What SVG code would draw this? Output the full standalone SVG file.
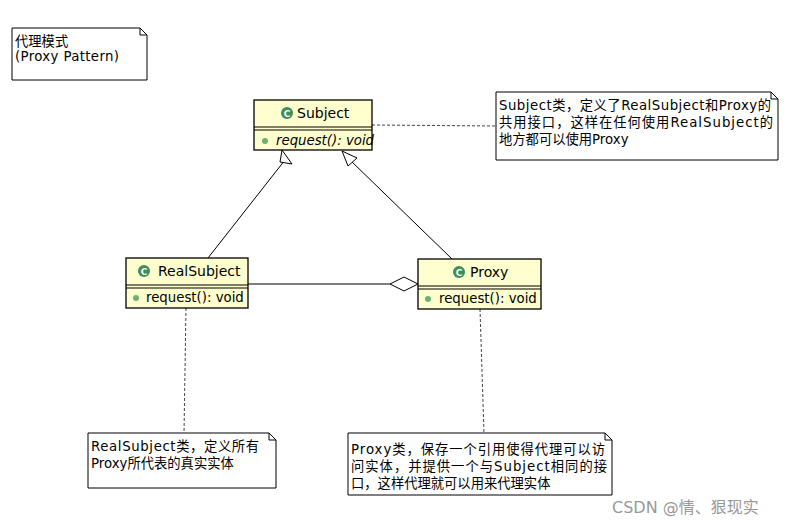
<svg xmlns="http://www.w3.org/2000/svg" width="799" height="525" viewBox="0 0 799 525">
<style>
text{font-family:"DejaVu Sans","Noto Sans CJK SC",sans-serif;font-size:13.3px;fill:#000}
.t{font-size:14px}
.cls{fill:#FEFECE;stroke:#000;stroke-width:1.3}
.note{fill:#fff;stroke:#000;stroke-width:1}
.ln{stroke:#000;stroke-width:1;fill:none}
.dash{stroke:#444;stroke-width:1;stroke-dasharray:3,2;fill:none}
.ic{fill:#3E8E5A}
.dot{fill:#6FAF74}
</style>
<rect width="799" height="525" fill="#fff"/>
<g id="connectors">
<line class="dash" x1="372" y1="125" x2="496" y2="126"/>
<line class="dash" x1="186" y1="308" x2="184" y2="433"/>
<line class="dash" x1="480" y1="309" x2="484" y2="433"/>
<line class="ln" x1="208" y1="258" x2="285" y2="160"/>
<polygon points="282,150 292,164 280,162" fill="#fff" stroke="#000"/>
<line class="ln" x1="452" y1="259" x2="350" y2="160"/>
<polygon points="342,151 357,158 348,166" fill="#fff" stroke="#000"/>
<line class="ln" x1="248" y1="284" x2="390" y2="284"/>
<polygon points="390,284 404,277 418,284 404,291" fill="#fff" stroke="#000"/>
</g>
<g id="title"><path class="note" d="M12,28 H140 L147,35 V80 H12 Z"/><path class="ln" d="M140,28 V35 H147"/>
<text x="15" y="46">代理模式</text><text x="15" y="61" textLength="104">(Proxy Pattern)</text></g>
<g id="Subject"><rect class="cls" x="254" y="100" width="118" height="50"/><line class="ln" x1="254" y1="127" x2="372" y2="127"/><line class="ln" x1="254" y1="130" x2="372" y2="130"/>
<circle class="ic" cx="287" cy="113" r="6"/><text x="287" y="117" text-anchor="middle" style="font-size:9px;font-weight:bold;fill:#fff">C</text>
<text class="t" x="297" y="118">Subject</text><circle class="dot" cx="265" cy="141" r="3"/><text x="276" y="145" font-style="italic">request(): void</text></g>
<g id="RealSubject"><rect class="cls" x="126" y="258" width="122" height="50"/><line class="ln" x1="126" y1="285" x2="248" y2="285"/><line class="ln" x1="126" y1="288" x2="248" y2="288"/>
<circle class="ic" cx="144" cy="271" r="6"/><text x="144" y="275" text-anchor="middle" style="font-size:9px;font-weight:bold;fill:#fff">C</text>
<text class="t" x="158" y="276">RealSubject</text><circle class="dot" cx="136" cy="298" r="3"/><text x="146" y="302">request(): void</text></g>
<g id="Proxy"><rect class="cls" x="418" y="259" width="123" height="50"/><line class="ln" x1="418" y1="286" x2="541" y2="286"/><line class="ln" x1="418" y1="289" x2="541" y2="289"/>
<circle class="ic" cx="459" cy="272" r="6"/><text x="459" y="276" text-anchor="middle" style="font-size:9px;font-weight:bold;fill:#fff">C</text>
<text class="t" x="470" y="277">Proxy</text><circle class="dot" cx="428" cy="299" r="3"/><text x="439" y="303">request(): void</text></g>
<g id="note1"><path class="note" d="M496,92 H771 L778,99 V160 H496 Z"/><path class="ln" d="M771,92 V99 H778"/>
<text x="499" y="110" textLength="272">Subject类，定义了RealSubject和Proxy的</text><text x="499" y="127" textLength="274">共用接口，这样在任何使用RealSubject的</text><text x="499" y="144">地方都可以使用Proxy</text></g>
<g id="note2"><path class="note" d="M88,433 H269 L276,440 V488 H88 Z"/><path class="ln" d="M269,433 V440 H276"/>
<text x="91" y="451" textLength="168">RealSubject类，定义所有</text><text x="91" y="468">Proxy所代表的真实实体</text></g>
<g id="note3"><path class="note" d="M348,433 H605 L612,440 V495 H348 Z"/><path class="ln" d="M605,433 V440 H612"/>
<text x="351" y="454" textLength="254">Proxy类，保存一个引用使得代理可以访</text><text x="351" y="471" textLength="256">问实体，并提供一个与Subject相同的接</text><text x="351" y="488">口，这样代理就可以用来代理实体</text></g>
<text x="612" y="513" style="font-size:16px;fill:#999">CSDN @情、狠现实</text>
</svg>
